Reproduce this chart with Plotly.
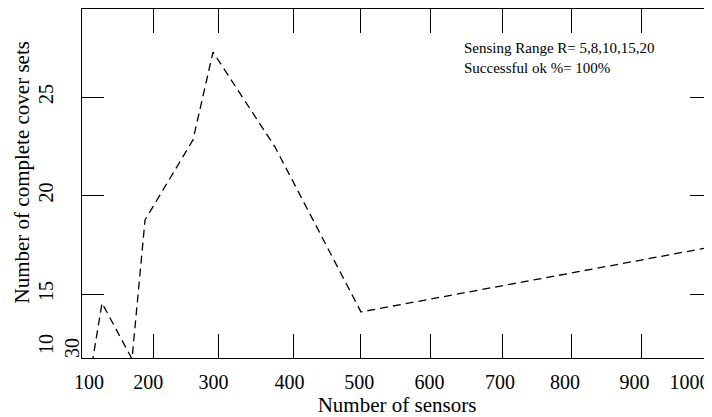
import plotly.graph_objects as go

# ---- data ----
sensors = [100.0, 114.6, 158.3, 177.3, 247.2, 276.4, 366.8, 492.1, 1003.8]
cover_sets = [11.45, 14.54, 11.70, 18.76, 22.82, 27.28, 22.46, 14.09, 17.39]

# x tick labels (positions on the axis where the labels sit) and tick marks
x_label_vals = [95.6, 182.1, 277.1, 387.9, 489.7, 592.0, 694.8, 789.5, 890.8, 971.1]
x_label_text = ["100", "200", "300", "400", "500", "600", "700", "800", "900", "1000"]
x_tick_vals = [188.9, 283.7, 393.0, 492.1, 592.7, 697.7, 798.3, 900.3]

y_label_vals = [12.31, 15, 20, 25]
y_label_text = ["10", "15", "20", "25"]
y_tick_vals = [15, 20, 25]

x_range = [85.4, 1003.8]
y_range = [11.751, 29.467]

FONT = "Liberation Serif"

fig = go.Figure()
fig.add_trace(go.Scatter(
    x=sensors, y=cover_sets, mode="lines",
    line=dict(color="black", width=1.3, dash="8px,5px"),
    showlegend=False, hoverinfo="skip",
))
# helper trace so the tick-mark axes are drawn
fig.add_trace(go.Scatter(x=[None], y=[None], xaxis="x2", yaxis="y2",
                         showlegend=False, hoverinfo="skip"))

# the page body has an 8px margin, so the figure is sized to compensate
fig.update_layout(
    width=704, height=409,
    margin=dict(l=74, r=0, t=1, b=59),
    paper_bgcolor="white", plot_bgcolor="white",
    font=dict(family=FONT, color="black", size=20),
    xaxis=dict(
        range=x_range, tickvals=x_label_vals, ticktext=x_label_text,
        ticks="", showgrid=False, zeroline=False,
        showline=True, linecolor="black", linewidth=1, mirror=True,
        tickfont=dict(family=FONT, size=20, color="black"),
        ticklabelstandoff=6,
        title=dict(text="Number of sensors", font=dict(family=FONT, size=21, color="black"),
                   standoff=0),
    ),
    xaxis2=dict(
        range=x_range, overlaying="x", anchor="y", side="bottom",
        tickvals=x_tick_vals, ticks="inside", ticklen=24, tickwidth=1, tickcolor="black",
        showticklabels=False, showgrid=False, zeroline=False, showline=False,
        mirror="ticks",
    ),
    yaxis=dict(
        range=y_range, tickvals=y_label_vals, ticktext=y_label_text,
        tickangle=-90, ticks="", showgrid=False, zeroline=False,
        showline=True, linecolor="black", linewidth=1, mirror=False,
        tickfont=dict(family=FONT, size=20, color="black"),
        ticklabelstandoff=20,
    ),
    yaxis2=dict(
        range=y_range, overlaying="y", anchor="x", side="left",
        tickvals=y_tick_vals, ticks="inside", ticklen=22, tickwidth=1, tickcolor="black",
        showticklabels=False, showgrid=False, zeroline=False, showline=False,
        mirror="ticks",
    ),
    annotations=[
        dict(text="Number of complete cover sets", xref="paper", yref="paper",
             x=(22 - 82) / 630, y=(358 - 172.5) / 349, textangle=-90,
             showarrow=False, xanchor="center", yanchor="middle",
             font=dict(family=FONT, size=21, color="black")),
        dict(text="30", xref="paper", yref="paper",
             x=(72 - 82) / 630, y=(358 - 348) / 349, textangle=-90,
             showarrow=False, xanchor="center", yanchor="middle",
             font=dict(family=FONT, size=20, color="black")),
        dict(text="Sensing Range R= 5,8,10,15,20<br>Successful ok %= 100%",
             xref="paper", yref="paper",
             x=(462 - 82) / 630, y=1 - (38 - 9) / 349,
             showarrow=False, xanchor="left", yanchor="top", align="left",
             font=dict(family=FONT, size=15, color="black")),
    ],
)

fig.write_html("out.html")
